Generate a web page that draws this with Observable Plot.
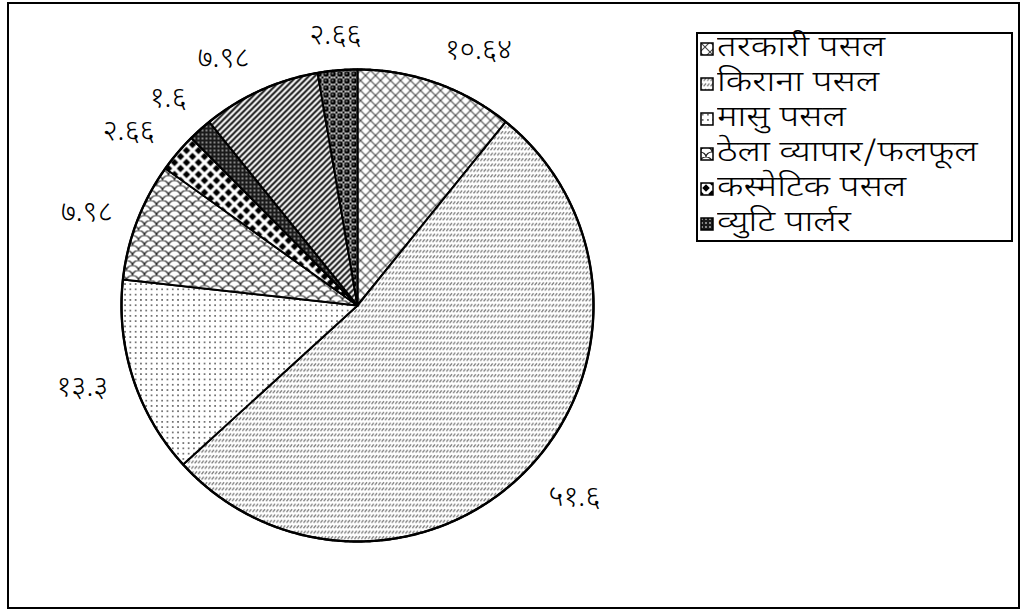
<!DOCTYPE html>
<html>
<head>
<meta charset="utf-8">
<script src="https://cdn.jsdelivr.net/npm/d3@7"></script>
<script src="https://cdn.jsdelivr.net/npm/@observablehq/plot@0.6"></script>
<style>
  body { margin: 0; background: #fff; }
  #wrap { position: relative; width: 1021px; height: 612px; overflow: hidden; background: #fff;
          font-family: "Noto Sans Devanagari", "Lohit Devanagari", "Noto Sans", "DejaVu Sans", sans-serif; }
  #frame { position: absolute; left: 7px; top: 2px; width: 1013px; height: 607px; border: 2px solid #000; box-sizing: border-box; pointer-events: none; }
  #legend { position: absolute; left: 696px; top: 32px; width: 317px; height: 210px; border: 2px solid #000; box-sizing: border-box; background: #fff; }
  .row { position: absolute; left: 2px; height: 30px; display: flex; align-items: center; font-size: 28px; font-weight: 300; color: #000; white-space: nowrap; }
  .row svg { margin-right: 3px; flex: none; }
  .row span { display: inline-block; transform: scaleX(1.3); transform-origin: 0 50%; line-height: 30px; }
  #chart { position: absolute; left: 0; top: 0; }
</style>
</head>
<body>
<div id="wrap">
  <div id="chart"></div>
  <div id="frame"></div>
  <div id="legend"></div>
</div>
<script>
// ---- data ----
const values = [10.64, 51.6, 13.3, 7.98, 2.66, 1.6, 7.98, 2.66];
const legendLabels = ["तरकारी पसल", "किराना पसल", "मासु पसल", "ठेला व्यापार/फलफूल", "कस्मेटिक पसल", "व्युटि पार्लर"];

// ---- styles ----
const patternIds = ["p-cross", "p-gray", "p-dots", "p-scales", "p-diamond", "p-check", "p-diag", "p-ball"];
const devDigits = "०१२३४५६७८९";
const toDev = v => String(v).replace(/\d/g, d => devDigits[+d]);

const total = d3.sum(values);
let cum = 0;
const slices = values.map((v, i) => {
  const a0 = cum / total * 2 * Math.PI; cum += v;
  const a1 = cum / total * 2 * Math.PI;
  return {i, v, a0, a1, mid: (a0 + a1) / 2};
});
// spread label angles so that neighbouring labels do not collide
const minGap = 10 * Math.PI / 180;
const la = slices.map(s => s.mid);
for (let it = 0; it < 20; it++) {
  for (let i = 1; i < la.length; i++) {
    const d = la[i] - la[i - 1];
    if (d < minGap) { const m = (minGap - d) / 2; la[i] += m; la[i - 1] -= m; }
  }
}
const labelR = 1.11;
const labels = slices.map((s, i) => {
  const a = la[i], sx = Math.sin(a), cy = Math.cos(a);
  const ta = Math.abs(sx) < 0.2 ? "middle" : sx > 0 ? "start" : "end";
  const lb = Math.abs(cy) < 0.4 ? "middle" : cy > 0 ? "bottom" : "top";
  return {x: labelR * sx, y: labelR * cy, text: toDev(s.v), key: ta + "|" + lb, ta, lb};
});
const labelGroups = d3.groups(labels, d => d.key);

function slicePoints(s) {
  const n = Math.max(2, Math.ceil((s.a1 - s.a0) / 0.005));
  const arr = [{x: 0, y: 0}];
  for (let k = 0; k <= n; k++) {
    const t = s.a0 + (s.a1 - s.a0) * k / n;
    arr.push({x: Math.sin(t), y: Math.cos(t)});
  }
  arr.push({x: 0, y: 0});
  return arr;
}
const circle = d3.range(0, 721).map(k => ({x: Math.sin(k / 720 * 2 * Math.PI), y: Math.cos(k / 720 * 2 * Math.PI)}));

const chart = Plot.plot({
  width: 1021, height: 612,
  marginLeft: 121, marginRight: 428, marginTop: 69, marginBottom: 71,
  x: {domain: [-1, 1], axis: null},
  y: {domain: [-1, 1], axis: null},
  style: {background: "transparent", overflow: "visible"},
  marks: [
    ...slices.map(s => Plot.line(slicePoints(s), {
      x: "x", y: "y", fill: `url(#${patternIds[s.i]})`, stroke: "#000", strokeWidth: 2, strokeLinejoin: "round"
    })),
    Plot.line(circle, {x: "x", y: "y", stroke: "#000", strokeWidth: 2.4}),
    ...labelGroups.map(([key, g]) => Plot.text(g, {
      x: "x", y: "y", text: "text", textAnchor: g[0].ta, lineAnchor: g[0].lb,
      fontSize: 29, fontWeight: 300, fill: "#000",
      fontFamily: "'Noto Sans Devanagari', 'Lohit Devanagari', 'Noto Sans', sans-serif"
    }))
  ]
});
document.getElementById("chart").appendChild(chart);

// ---- pattern definitions ----
const svg = d3.select(chart);
const defs = svg.insert("defs", ":first-child");
function pat(id, w, h) {
  const p = defs.append("pattern").attr("id", id).attr("patternUnits", "userSpaceOnUse")
    .attr("width", w).attr("height", h);
  p.append("rect").attr("width", w).attr("height", h).attr("fill", "#fff");
  return p;
}
// crosshatch
pat("p-cross", 10, 10).append("path").attr("d", "M0,0L10,10M10,0L0,10").attr("stroke", "#444").attr("stroke-width", 1.1).attr("fill", "none");
// gray short diagonal strokes in rows
pat("p-gray", 3.4, 5.4).append("path").attr("d", "M0.4,3.9L2.6,1.1").attr("stroke", "#7a7a7a").attr("stroke-width", 1.3).attr("fill", "none");
// dots
pat("p-dots", 5.3, 5.3).append("circle").attr("cx", 2.65).attr("cy", 2.65).attr("r", 0.8).attr("fill", "#333");
// scales
pat("p-scales", 12, 10).append("path")
  .attr("d", "M0,5A6,5 0 0 1 12,5M-6,10A6,5 0 0 1 6,10M6,10A6,5 0 0 1 18,10M-6,0A6,5 0 0 1 6,0M6,0A6,5 0 0 1 18,0")
  .attr("stroke", "#222").attr("stroke-width", 1.2).attr("fill", "none");
// diamonds
pat("p-diamond", 12, 12).append("path")
  .attr("d", "M6,2.2L9.8,6L6,9.8L2.2,6ZM0,-3.8L3.8,0L0,3.8L-3.8,0ZM12,-3.8L15.8,0L12,3.8L8.2,0ZM0,8.2L3.8,12L0,15.8L-3.8,12ZM12,8.2L15.8,12L12,15.8L8.2,12Z")
  .attr("fill", "#000");
// dense dark with white dots
{
  const p = pat("p-check", 4, 4);
  p.append("rect").attr("width", 4).attr("height", 4).attr("fill", "#1a1a1a");
  p.append("circle").attr("cx", 2).attr("cy", 2).attr("r", 0.9).attr("fill", "#bbb");
}
// dense diagonal lines
pat("p-diag", 6, 6).append("path").attr("d", "M0,6L6,0M-1,1L1,-1M5,7L7,5").attr("stroke", "#111").attr("stroke-width", 2).attr("fill", "none");
// balls
{
  const p = pat("p-ball", 7, 7);
  p.append("rect").attr("width", 7).attr("height", 7).attr("fill", "#fff");
  p.append("circle").attr("cx", 3.5).attr("cy", 3.5).attr("r", 3).attr("fill", "#000");
  p.append("circle").attr("cx", 3.1).attr("cy", 3.0).attr("r", 0.9).attr("fill", "#999");
  p.append("path").attr("d", "M0,0h1.2v1.2h-1.2ZM7,0h-1.2v1.2h1.2ZM0,7h1.2v-1.2h-1.2ZM7,7h-1.2v-1.2h1.2Z").attr("fill", "#000");
}

// ---- legend ----
const legend = document.getElementById("legend");
legendLabels.forEach((lab, i) => {
  const row = document.createElement("div");
  row.className = "row";
  row.style.top = (0 + i * 35) + "px";
  const sw = document.createElementNS("http://www.w3.org/2000/svg", "svg");
  sw.setAttribute("width", 14); sw.setAttribute("height", 14);
  const r = document.createElementNS("http://www.w3.org/2000/svg", "rect");
  r.setAttribute("x", 1); r.setAttribute("y", 1); r.setAttribute("width", 12); r.setAttribute("height", 12);
  r.setAttribute("fill", `url(#${patternIds[i]})`); r.setAttribute("stroke", "#000"); r.setAttribute("stroke-width", 1.5);
  sw.appendChild(r);
  row.appendChild(sw);
  const t = document.createElement("span");
  t.textContent = lab;
  row.appendChild(t);
  legend.appendChild(row);
});
</script>
</body>
</html>
